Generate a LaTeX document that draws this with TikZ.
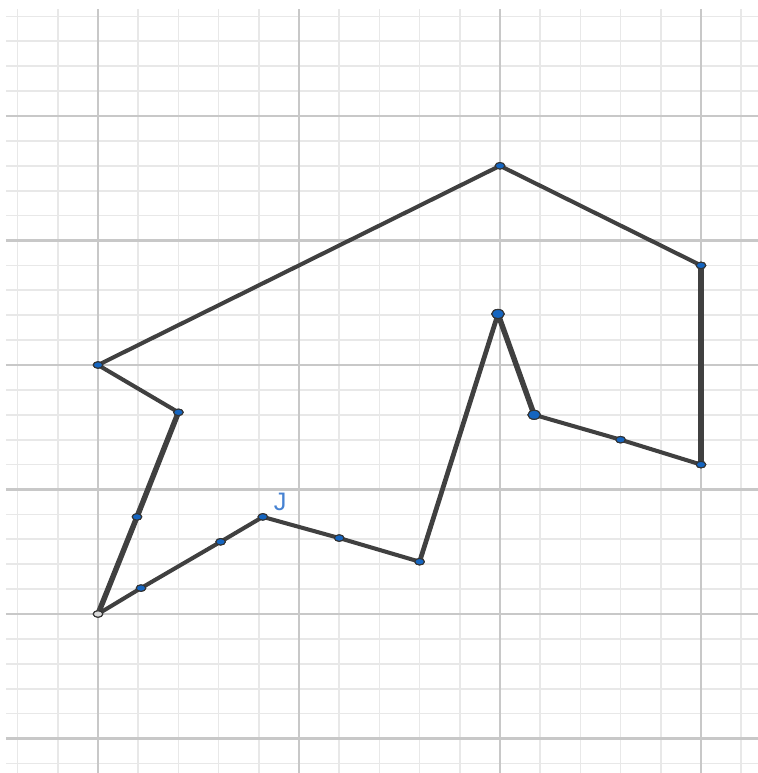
\documentclass[tikz,border=0pt]{standalone}
\usepackage{tikz}
\usetikzlibrary{shapes.geometric,positioning}
\usepackage{fontspec}
\setsansfont{Liberation Sans}
\definecolor{ggblue}{RGB}{21,101,192}
\definecolor{gglabel}{RGB}{70,130,210}
\definecolor{edgegrey}{RGB}{64,64,64}
\definecolor{majorgrey}{RGB}{200,200,200}
\definecolor{minorgrey}{RGB}{232,232,232}

\begin{document}
\begin{tikzpicture}[x=0.804cm, y=0.498cm,
    pt/.style={ellipse, draw=black!80, line width=0.6pt, fill=#1, inner sep=0pt, minimum width=0.19cm, minimum height=0.13cm},
    pt/.default=ggblue,
    bigpt/.style={pt, minimum width=0.25cm, minimum height=0.18cm},
    edge/.style={draw=edgegrey, line width=2.3pt, line cap=round},
    thickedge/.style={edge, line width=3.1pt}
]
    \useasboundingbox (-2.438,-6.386) rectangle (16.418,24.659);
    % Grid: minor lines, then major lines
    \foreach \i in {-2,...,16} {
        \draw[minorgrey, line width=1pt] (\i,-6.39) -- (\i,24.3);
    }
    \foreach \j in {-6,...,24} {
        \draw[minorgrey, line width=1pt] (-2.29,\j) -- (16.42,\j);
    }
    \foreach \i in {0,5,10,15} {
        \draw[majorgrey, line width=1.2pt] (\i,-6.39) -- (\i,24.3);
    }
    \foreach \j in {-5,0,5,10,15,20} {
        \draw[majorgrey, line width=1.2pt] (-2.29,\j) -- (16.42,\j);
    }

    % Polygon vertices
    \node[pt] (P) at (0,10) {};
    \node[pt] (A) at (10,18) {};
    \node[pt] (B) at (15,14) {};
    \node[pt] (C) at (15,6) {};
    \node[pt] (D) at (13,7) {};
    \node[bigpt] (E) at (10.85,8) {};
    \node[bigpt] (F) at (9.95,12.05) {};
    \node[pt] (G) at (8,2.1) {};
    \node[pt] (H) at (6,3.05) {};
    \node[pt] (J) at (4.1,3.9) {};
    \node[pt] (K) at (3.05,2.9) {};
    \node[pt] (L) at (1.07,1.04) {};
    \node[pt=black!15] (M) at (0,0) {};
    \node[pt] (N) at (0.97,3.9) {};
    \node[pt] (O) at (2,8.1) {};
    \node[font=\sffamily\Large, text=gglabel, inner sep=0pt, above right=1.5pt and 4pt of J] (Jlabel) {J};

    % Sides
    \draw[edge] (P.center) -- (A.center) -- (B.center);
    \draw[thickedge] (B.center) -- (C.center);
    \draw[edge] (C.center) -- (D.center) -- (E.center);
    \draw[thickedge] (E.center) -- (F.center);
    \draw[edge, line width=2.7pt] (F.center) -- (G.center);
    \draw[edge] (G.center) -- (H.center) -- (J.center) -- (K.center) -- (L.center) -- (M.center);
    \draw[thickedge] (M.center) -- (N.center) -- (O.center);
    \draw[edge] (O.center) -- (P.center);

    % Redraw points over the sides
    \foreach \v in {P,A,B,C,D,G,H,J,K,L,N,O} {
        \node[pt] at (\v) {};
    }
    \node[bigpt] at (E) {};
    \node[bigpt] at (F) {};
    \node[pt=black!15] at (M) {};
\end{tikzpicture}
\end{document}
